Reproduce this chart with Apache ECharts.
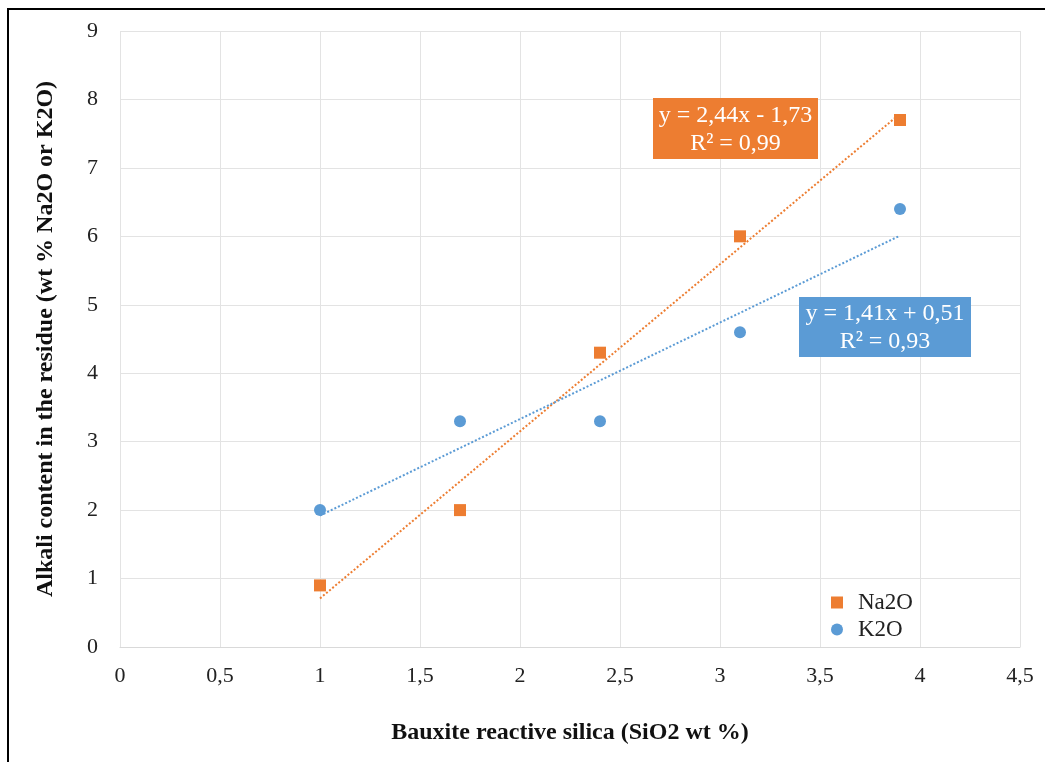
<!DOCTYPE html>
<html>
<head>
<meta charset="utf-8">
<script src="https://cdn.jsdelivr.net/npm/echarts@6/dist/echarts.min.js"></script>
<style>
  html, body { margin: 0; padding: 0; background: #fff; }
  #chart { width: 1045px; height: 762px; }
</style>
</head>
<body>
<div id="chart"></div>
<script>
// silice réactive (x) et teneurs en alcalins (y)
const silica = [1, 1.7, 2.4, 3.1, 3.9];
const na2o = [0.9, 2.0, 4.3, 6.0, 7.7];
const k2o = [2.0, 3.3, 3.3, 4.6, 6.4];
// extrémités des droites de tendance
const na2oTrend = [[1, 0.71], [3.9, 7.79]];
const k2oTrend = [[1, 1.92], [3.9, 6.01]];
const na2oEq = ['y = 2,44x - 1,73', 'R² = 0,99'];
const k2oEq = ['y = 1,41x + 0,51', 'R² = 0,93'];

const orange = '#ED7D31';
const blue = '#5B9BD5';
const serif = '"Liberation Serif", "Times New Roman", serif';

const chart = echarts.init(document.getElementById('chart'));
chart.setOption({
    animation: false,
    textStyle: { fontFamily: serif },
    grid: {
        left: 120,
        right: 25,
        top: 31,
        bottom: 115
    },
    legend: {
        orient: 'vertical',
        left: 826,
        top: 586,
        itemWidth: 12,
        itemHeight: 12,
        itemGap: 4,
        textStyle: { fontFamily: serif, fontSize: 23, lineHeight: 23, color: '#222', padding: [0, 0, 0, 10] },
        data: [
            { name: 'Na2O', icon: 'rect' },
            { name: 'K2O', icon: 'circle' }
        ]
    },
    xAxis: {
        type: 'value',
        min: 0,
        max: 4.5,
        interval: 0.5,
        name: 'Bauxite reactive silica (SiO2 wt %)',
        nameLocation: 'middle',
        nameGap: 74,
        nameTextStyle: { fontFamily: serif, fontSize: 24, fontWeight: 'bold', color: '#111' },
        axisLine: { lineStyle: { color: '#d9d9d9' } },
        axisTick: { show: false },
        axisLabel: {
            fontFamily: serif,
            fontSize: 22,
            color: '#222',
            margin: 18,
            formatter: v => String(v).replace('.', ',')
        },
        splitLine: { lineStyle: { color: '#e3e3e3' } }
    },
    yAxis: {
        type: 'value',
        min: 0,
        max: 9,
        interval: 1,
        name: 'Alkali content in the residue (wt % Na2O or K2O)',
        nameLocation: 'middle',
        nameGap: 62,
        nameTextStyle: { fontFamily: serif, fontSize: 24, fontWeight: 'bold', color: '#111' },
        axisLine: { show: false },
        axisTick: { show: false },
        axisLabel: { fontFamily: serif, fontSize: 22, color: '#222', margin: 22 },
        splitLine: { lineStyle: { color: '#e3e3e3' } }
    },
    series: [
        {
            name: 'Na2O trend',
            type: 'line',
            data: na2oTrend,
            symbol: 'none',
            lineStyle: { color: orange, width: 2, type: [2, 2] },
            z: 2
        },
        {
            name: 'K2O trend',
            type: 'line',
            data: k2oTrend,
            symbol: 'none',
            lineStyle: { color: blue, width: 2, type: [2, 2] },
            z: 2
        },
        {
            name: 'Na2O',
            type: 'scatter',
            data: silica.map((x, i) => [x, na2o[i]]),
            symbol: 'rect',
            symbolSize: 12,
            itemStyle: { color: orange, opacity: 1 },
            z: 3
        },
        {
            name: 'K2O',
            type: 'scatter',
            data: silica.map((x, i) => [x, k2o[i]]),
            symbol: 'circle',
            symbolSize: 12,
            itemStyle: { color: blue, opacity: 1 },
            z: 3
        }
    ],
    graphic: [
        {
            type: 'rect',
            shape: { x: 8, y: 9, width: 1060, height: 780 },
            style: { fill: 'none', stroke: '#000', lineWidth: 2 },
            silent: true
        },
        {
            type: 'rect',
            shape: { x: 653, y: 98, width: 165, height: 61 },
            style: { fill: orange },
            z: 10
        },
        {
            type: 'text',
            x: 735.5,
            y: 130,
            style: {
                text: na2oEq.join('\n'),
                align: 'center',
                verticalAlign: 'middle',
                fill: '#fff',
                fontFamily: serif,
                fontSize: 24,
                lineHeight: 28
            },
            z: 11
        },
        {
            type: 'rect',
            shape: { x: 799, y: 297, width: 172, height: 60 },
            style: { fill: blue },
            z: 10
        },
        {
            type: 'text',
            x: 885,
            y: 328,
            style: {
                text: k2oEq.join('\n'),
                align: 'center',
                verticalAlign: 'middle',
                fill: '#fff',
                fontFamily: serif,
                fontSize: 24,
                lineHeight: 28
            },
            z: 11
        }
    ]
});

window.addEventListener('resize', () => {
    chart.resize();
});
</script>
</body>
</html>
